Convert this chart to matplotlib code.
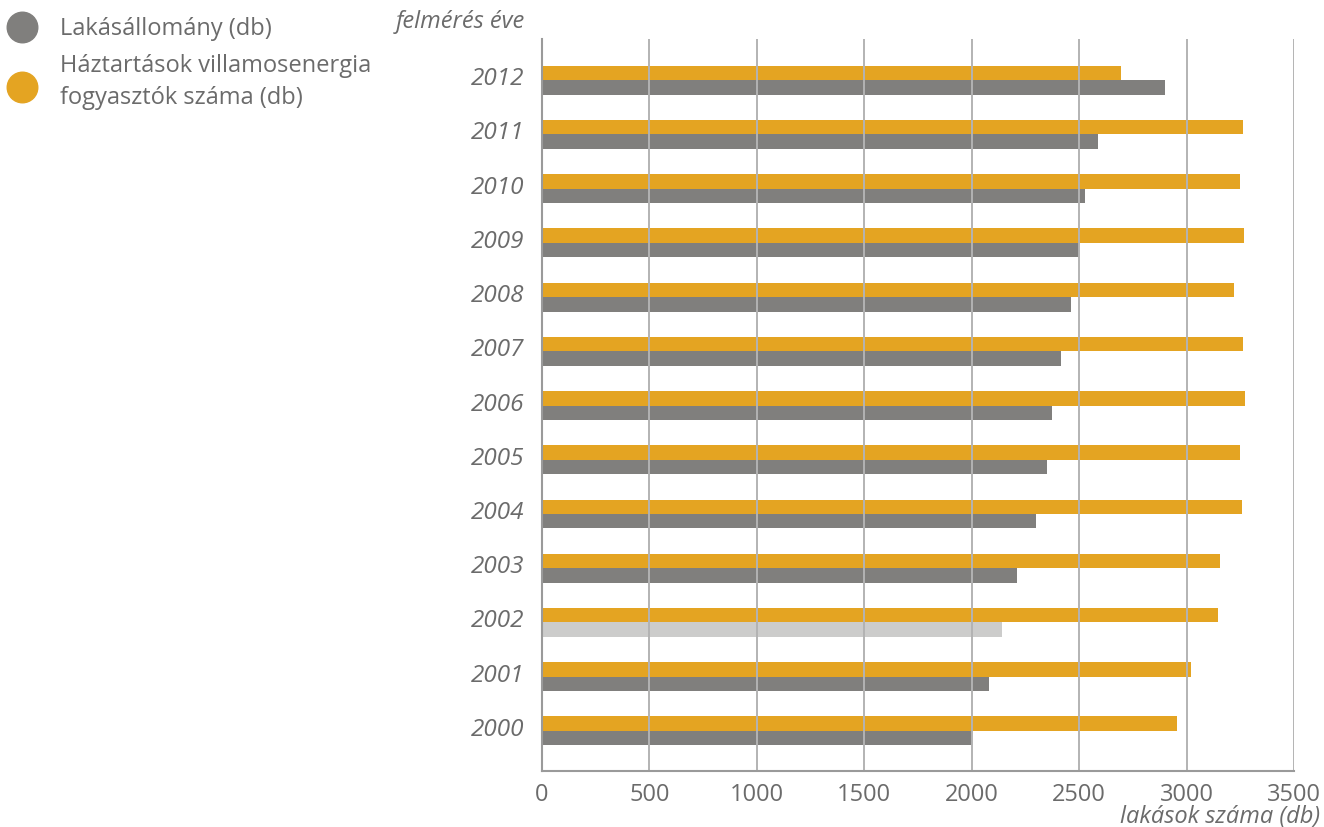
import matplotlib.pyplot as plt
import matplotlib.transforms as mtrans
import numpy as np
from matplotlib.lines import Line2D

plt.rcParams['font.family'] = ['Open Sans', 'DejaVu Sans']

years = [2000, 2001, 2002, 2003, 2004, 2005, 2006, 2007, 2008, 2009, 2010, 2011, 2012]
lakas = [2000, 2080, 2140, 2210, 2300, 2350, 2373, 2415, 2462, 2499, 2527, 2587, 2899]
fogyasztok = [2955, 3020, 3146, 3155, 3257, 3248, 3271, 3262, 3220, 3267, 3248, 3262, 2694]
xticks = [0, 500, 1000, 1500, 2000, 2500, 3000, 3500]

orange = '#E4A422'
gray = '#807F7D'
light = '#CCCCCB'
txt = '#6b6b6b'

fig = plt.figure(figsize=(13.24, 8.28), dpi=100)
ax = fig.add_axes([542 / 1324, 56 / 828, 752 / 1324, 732 / 828])

y = np.arange(len(years))
h = 0.267
gray_cols = [light if yr == 2002 else gray for yr in years]
ax.barh(y + h / 2, fogyasztok, height=h, color=orange, zorder=2)
ax.barh(y - h / 2, lakas, height=h, color=gray_cols, zorder=2)

for xv in xticks[1:]:
    ax.axvline(xv, color='#b3b3b3', lw=1.4, zorder=3)

ax.set_xlim(0, 3500)
ax.set_ylim(-0.74, 12.76)
ax.set_xticks(xticks)
ax.set_xticklabels([str(v) for v in xticks], fontsize=17, color=txt)
ax.set_yticks(y)
ax.set_yticklabels([str(v) for v in years], fontsize=17.5, color=txt, style='italic')
ax.tick_params(axis='x', length=0, pad=8)
ax.tick_params(axis='y', length=0, pad=13)
shift = mtrans.ScaledTranslation(0, 5 / 100, fig.dpi_scale_trans)
for lab in ax.get_yticklabels():
    lab.set_transform(lab.get_transform() + shift)
for s in ['top', 'right']:
    ax.spines[s].set_visible(False)
for s in ['left', 'bottom']:
    ax.spines[s].set_color('#9a9a9a')
    ax.spines[s].set_linewidth(1.5)
    ax.spines[s].set_zorder(4)

fig.text(525 / 1324, 1 - 22 / 828, 'felmérés éve', ha='right', va='center',
         fontsize=17, style='italic', color=txt)
fig.text(1320 / 1324, 1 - 817 / 828, 'lakások száma (db)', ha='right', va='center',
         fontsize=17, style='italic', color=txt)

# legend
fig.add_artist(Line2D([22 / 1324], [1 - 28 / 828], marker='o', markersize=22,
                      color=gray, transform=fig.transFigure))
fig.add_artist(Line2D([22 / 1324], [1 - 88 / 828], marker='o', markersize=22,
                      color=orange, transform=fig.transFigure))
fig.text(60 / 1324, 1 - 29 / 828, 'Lakásállomány (db)', ha='left', va='center',
         fontsize=17, color=txt)
fig.text(60 / 1324, 1 - 82 / 828, 'Háztartások villamosenergia\nfogyasztók száma (db)',
         ha='left', va='center', fontsize=17, color=txt, linespacing=1.42)

fig.savefig('out.png', dpi=100)
